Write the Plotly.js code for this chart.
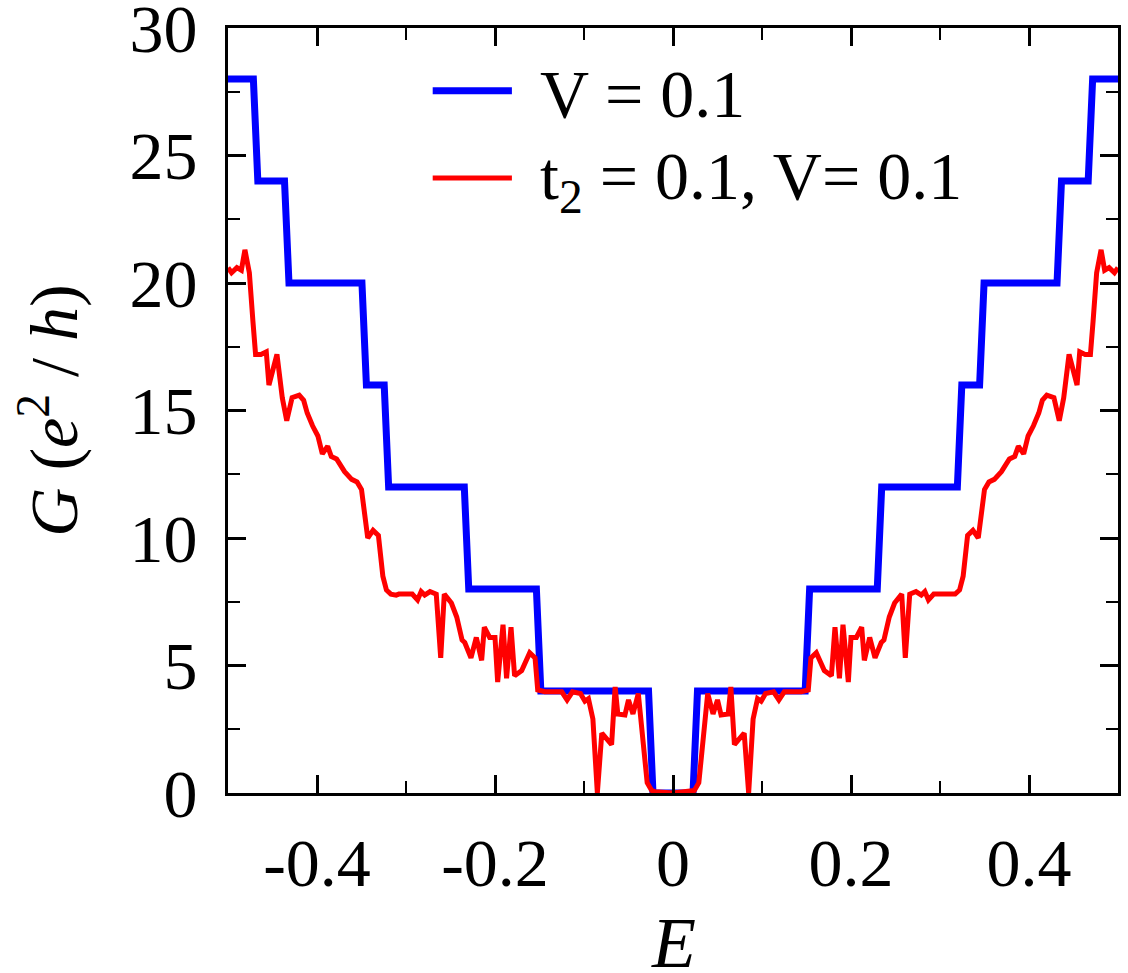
<!DOCTYPE html>
<html>
<head>
<meta charset="utf-8">
<script src="https://cdn.plot.ly/plotly-3.0.1.min.js"></script>
<style>
  html, body { margin: 0; padding: 0; background: #fff; }
  #chart { width: 1128px; height: 973px; }
  #chart text, #chart tspan { font-family: "Liberation Serif", "Times New Roman", serif !important; }
</style>
</head>
<body>
<div id="chart"></div>
<script>
// Conductance G (in units of e^2/h) versus energy E.

// Clean ribbon, V = 0.1: quantized steps
const energyStep = [-0.5, -0.4715, -0.4665, -0.4365, -0.4315, -0.3495, -0.3445, -0.3245, -0.3195,
  -0.2345, -0.2295, -0.1535, -0.1485, -0.0275, -0.0225, 0.0225, 0.0275, 0.1485, 0.1535,
  0.2295, 0.2345, 0.3195, 0.3245, 0.3445, 0.3495, 0.4315, 0.4365, 0.4665, 0.4715, 0.5];
const condStep = [28, 28, 24, 24, 20, 20, 16, 16, 12, 12, 8, 8, 4, 4, 0, 0, 4, 4, 8, 8,
  12, 12, 16, 16, 20, 20, 24, 24, 28, 28];

// With next-nearest hopping t2 = 0.1, V = 0.1
const energyT2 = [
  -0.500, -0.496, -0.490, -0.485, -0.481, -0.476, -0.472, -0.469, -0.463, -0.457, -0.454,
  -0.445, -0.439, -0.434, -0.428, -0.420, -0.415, -0.411, -0.405, -0.399, -0.394, -0.388,
  -0.384, -0.378, -0.369, -0.361, -0.355, -0.350, -0.343, -0.337, -0.331, -0.326, -0.322,
  -0.317, -0.311, -0.308, -0.302, -0.293, -0.287, -0.283, -0.279, -0.273, -0.266, -0.261,
  -0.257, -0.249, -0.243, -0.237, -0.234, -0.227, -0.221, -0.215, -0.212, -0.206, -0.200,
  -0.197, -0.191, -0.187, -0.182, -0.178, -0.170, -0.161, -0.155, -0.152, -0.144, -0.125,
  -0.119, -0.113, -0.104, -0.099, -0.095, -0.090, -0.085, -0.080, -0.069, -0.065, -0.062,
  -0.054, -0.050, -0.045, -0.039, -0.029, -0.024, -0.020, 0.000,
  0.020, 0.024, 0.029, 0.039, 0.045, 0.050, 0.054, 0.062, 0.065, 0.069, 0.080,
  0.085, 0.090, 0.095, 0.099, 0.104, 0.113, 0.119, 0.125, 0.144, 0.152, 0.155,
  0.161, 0.170, 0.178, 0.182, 0.187, 0.191, 0.197, 0.200, 0.206, 0.212, 0.215,
  0.221, 0.227, 0.234, 0.237, 0.243, 0.249, 0.257, 0.261, 0.266, 0.273, 0.279,
  0.283, 0.287, 0.293, 0.302, 0.308, 0.311, 0.317, 0.322, 0.326, 0.331, 0.337,
  0.343, 0.350, 0.355, 0.361, 0.369, 0.378, 0.384, 0.388, 0.394, 0.399, 0.405,
  0.411, 0.415, 0.420, 0.428, 0.434, 0.439, 0.445, 0.454, 0.457, 0.463, 0.469,
  0.472, 0.476, 0.481, 0.485, 0.490, 0.496, 0.500];
const condT2 = [
  20.6, 20.4, 20.6, 20.5, 21.3, 20.4, 18.5, 17.2, 17.2, 17.3, 16.0,
  17.2, 15.5, 14.6, 15.5, 15.6, 15.4, 14.9, 14.4, 14.0, 13.3, 13.6,
  13.2, 13.1, 12.6, 12.3, 12.2, 11.9, 10.0, 10.3, 10.1, 8.5, 7.96,
  7.8, 7.76, 7.8, 7.8, 7.8, 7.57, 7.9, 7.76, 7.9, 7.8, 5.3,
  7.8, 7.45, 6.9, 6.0, 5.9, 5.3, 6.1, 5.2, 6.5, 6.1, 6.1,
  4.35, 6.6, 4.5, 6.5, 4.6, 4.8, 5.5, 5.3, 4.04, 3.97, 3.97,
  3.65, 3.97, 3.9, 3.6, 3.7, 2.9, 0.0, 2.35, 1.9, 4.16, 3.1,
  3.06, 3.65, 3.1, 3.9, 0.4, 0.1, 0.05, 0.0,
  0.05, 0.1, 0.4, 3.9, 3.1, 3.65, 3.06, 3.1, 4.16, 1.9, 2.35,
  0.0, 2.9, 3.7, 3.6, 3.9, 3.97, 3.65, 3.97, 3.97, 4.04, 5.3,
  5.5, 4.8, 4.6, 6.5, 4.5, 6.6, 4.35, 6.1, 6.1, 6.5, 5.2,
  6.1, 5.3, 5.9, 6.0, 6.9, 7.45, 7.8, 5.3, 7.8, 7.9, 7.76,
  7.9, 7.57, 7.8, 7.8, 7.8, 7.76, 7.8, 7.96, 8.5, 10.1, 10.3,
  10.0, 11.9, 12.2, 12.3, 12.6, 13.1, 13.2, 13.6, 13.3, 14.0, 14.4,
  14.9, 15.4, 15.6, 15.5, 14.6, 15.5, 17.2, 16.0, 17.3, 17.2, 17.2,
  18.5, 20.4, 21.3, 20.5, 20.6, 20.4, 20.6];

// Axis ticks
const xTickVals = [-0.4, -0.2, 0, 0.2, 0.4];
const xTickText = ['-0.4', '-0.2', '0', '0.2', '0.4'];
const yTickVals = [0, 5, 10, 15, 20, 25, 30];
const yTickText = ['0', '5', '10', '15', '20', '25', '30'];

const seriesNames = ['V = 0.1', 't<sub>2</sub> = 0.1, V= 0.1'];
const seriesColors = ['#0000ff', '#ff0000'];
const seriesWidths = [7, 5];

const xTitle = '<i>E</i>';
const yTitle = '<i>G</i> (<i>e</i><sup>2</sup> / <i>h</i>)';

const FONT = 'Liberation Serif';

const traces = [0, 1].map(i => ({
  x: i === 0 ? energyStep : energyT2,
  y: i === 0 ? condStep : condT2,
  type: 'scatter', mode: 'lines',
  name: seriesNames[i],
  line: { color: seriesColors[i], width: seriesWidths[i] },
  showlegend: false
}));

// Legend: long line samples with labels, placed in the upper middle of the frame
const legendRows = [0.918, 0.804];
const legendShapes = legendRows.map((yy, i) => ({
  type: 'line', xref: 'paper', yref: 'paper',
  x0: 0.230, x1: 0.319, y0: yy, y1: yy,
  line: { color: seriesColors[i], width: seriesWidths[i] }
}));
const legendLabels = legendRows.map((yy, i) => ({
  xref: 'paper', yref: 'paper', x: 0.348, y: yy,
  xanchor: 'left', yanchor: 'middle', yshift: -3,
  text: seriesNames[i], showarrow: false,
  font: { family: FONT, size: 68, color: '#000' }
}));

// Energy axis label, set low in the bottom margin
const xTitleLabel = {
  xref: 'paper', yref: 'paper', x: 0.5, y: 0, yshift: -108,
  xanchor: 'center', yanchor: 'top',
  text: xTitle, showarrow: false,
  font: { family: FONT, size: 72, color: '#000' }
};

const axisCommon = {
  showline: true, linecolor: '#000', linewidth: 3, mirror: 'allticks',
  ticks: 'inside', ticklen: 18, tickwidth: 3, tickcolor: '#000',
  showgrid: false, zeroline: false,
  tickfont: { family: FONT, size: 68, color: '#000' },
  tickmode: 'array', ticklabeloverflow: 'allow'
};

const layout = {
  width: 1128, height: 973,
  margin: { l: 228, r: 10, t: 28, b: 180 },
  paper_bgcolor: '#fff', plot_bgcolor: '#fff',
  font: { family: FONT, color: '#000' },
  showlegend: false,
  shapes: legendShapes,
  annotations: legendLabels.concat([xTitleLabel]),
  xaxis: Object.assign({}, axisCommon, {
    range: [-0.5, 0.5],
    tickvals: xTickVals, ticktext: xTickText,
    ticklabelstandoff: 8,
    minor: { tickmode: 'linear', tick0: 0, dtick: 0.1, ticks: 'inside', ticklen: 12, tickwidth: 2, tickcolor: '#000' }
  }),
  yaxis: Object.assign({}, axisCommon, {
    range: [0, 30],
    tickvals: yTickVals, ticktext: yTickText,
    ticklabelstandoff: 14,
    minor: { tickmode: 'linear', tick0: 0, dtick: 2.5, ticks: 'inside', ticklen: 12, tickwidth: 2, tickcolor: '#000' },
    title: { text: yTitle, font: { family: FONT, size: 68, color: '#000' }, standoff: 30 }
  })
};

Plotly.newPlot('chart', traces, layout, { displayModeBar: false, staticPlot: true });
</script>
</body>
</html>
